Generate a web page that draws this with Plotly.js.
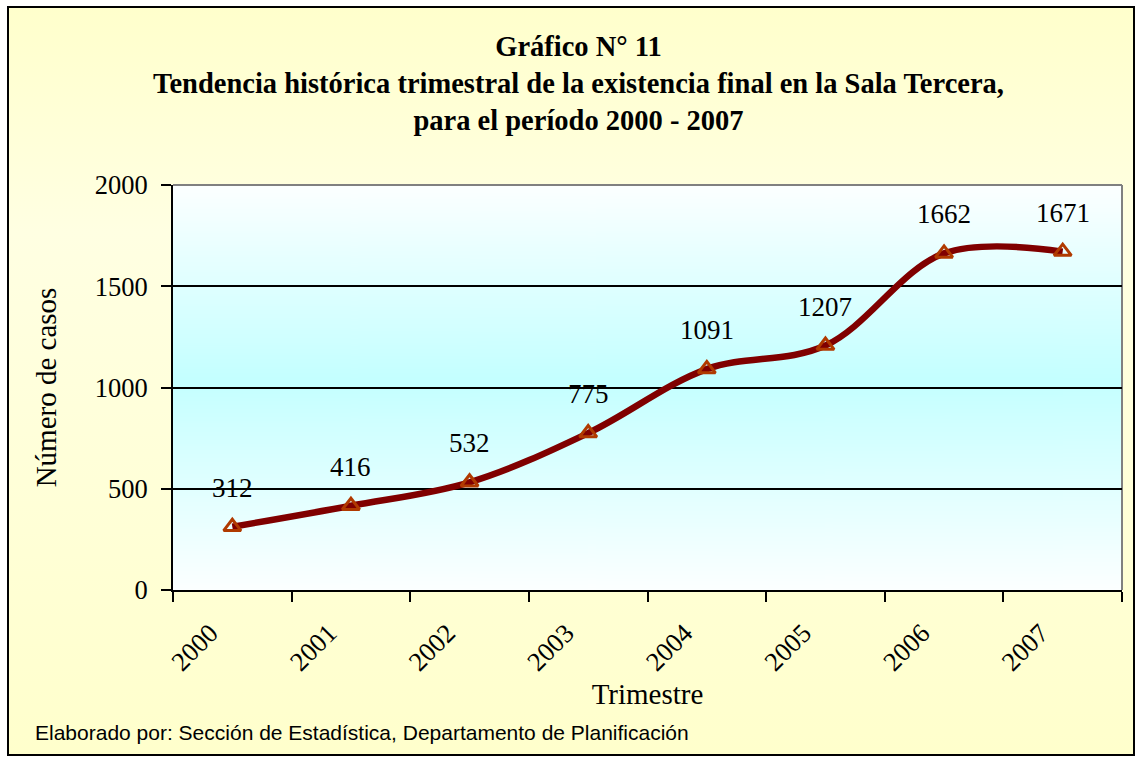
<!DOCTYPE html>
<html>
<head>
<meta charset="utf-8">
<script src="https://cdn.plot.ly/plotly-3.0.1.min.js"></script>
<style>
  html, body { margin: 0; padding: 0; background: #ffffff; }
  #wrap { position: relative; width: 1135px; height: 757px; overflow: hidden; }
  #frame { position: absolute; left: 7px; top: 6px; width: 1124px; height: 746px;
           border: 2px solid #000; box-sizing: content-box;
           background: linear-gradient(to bottom, #FFFFCC 0%, #FFFFE2 30%, #FFFFD6 70%, #FFFFCC 100%); }
  #chart { position: absolute; left: 0; top: 0; width: 1135px; height: 757px; }
</style>
</head>
<body>
<div id="wrap">
  <div id="frame"></div>
  <div id="chart"></div>
</div>
<script>
// ---- data ----
const years = ["2000", "2001", "2002", "2003", "2004", "2005", "2006", "2007"];
const casos = [312, 416, 532, 775, 1091, 1207, 1662, 1671];
const yTicks = [0, 500, 1000, 1500, 2000];

const titleLines = [
  "Gráfico N° 11",
  "Tendencia histórica trimestral de la existencia final en la Sala Tercera,",
  "para el período 2000 - 2007"
];
const footerText = "Elaborado por: Sección de Estadística, Departamento de Planificación";

// gradient image for plot background
function gradientURL() {
  const c = document.createElement("canvas");
  c.width = 8; c.height = 400;
  const ctx = c.getContext("2d");
  const g = ctx.createLinearGradient(0, 0, 0, 400);
  g.addColorStop(0, "#FCFFFF");
  g.addColorStop(0.48, "#C4FFFF");
  g.addColorStop(1, "#FCFFFF");
  ctx.fillStyle = g;
  ctx.fillRect(0, 0, 8, 400);
  return c.toDataURL("image/png");
}

const serif = "Liberation Serif, Times New Roman, serif";

const trace = {
  type: "scatter",
  mode: "lines+markers",
  x: years,
  y: casos,
  line: { color: "#800000", width: 6.5, shape: "spline", smoothing: 1 },
  marker: { symbol: "triangle-up-open", size: 15, color: "#B03A00", line: { color: "#B03A00", width: 3 } },
  hoverinfo: "x+y",
  showlegend: false
};

// data labels (category index used as x position)
const labelAnnots = years.map((yr, i) => ({
  x: i, y: casos[i], xref: "x", yref: "y",
  text: String(casos[i]), showarrow: false,
  yshift: 39, yanchor: "middle", xanchor: "center",
  font: { family: serif, size: 27, color: "#000" }
}));

const layout = {
  width: 1135, height: 757,
  margin: { l: 173, r: 13, t: 185, b: 167 },
  paper_bgcolor: "rgba(0,0,0,0)",
  plot_bgcolor: "rgba(0,0,0,0)",
  title: {
    text: titleLines.join("<br>"),
    font: { family: serif, size: 28.5, color: "#000", weight: "bold" },
    x: 0.5097, xanchor: "center", xref: "container",
    y: 0.926, yanchor: "middle", yref: "container"
  },
  xaxis: {
    type: "category",
    tickson: "boundaries",
    ticks: "outside", ticklen: 10, tickwidth: 2, tickcolor: "#000",
    showline: true, linecolor: "#000", linewidth: 2,
    showgrid: false, zeroline: false,
    tickangle: -45,
    ticklabelstandoff: 15,
    ticklabelshift: -22,
    tickfont: { family: serif, size: 26.5, color: "#000" },
    title: { text: "Trimestre", font: { family: serif, size: 29, color: "#000" }, standoff: 8 },
    range: [-0.5, 7.5]
  },
  yaxis: {
    range: [0, 2000],
    tickvals: yTicks,
    ticktext: yTicks.map(String),
    ticks: "outside", ticklen: 10, tickwidth: 2, tickcolor: "#000",
    showline: true, linecolor: "#000", linewidth: 2,
    showgrid: true, gridcolor: "#000", gridwidth: 2,
    zeroline: false,
    ticklabelstandoff: 8,
    tickfont: { family: serif, size: 26.5, color: "#000" },
    title: { text: "Número de casos", font: { family: serif, size: 29, color: "#000" }, standoff: 30 }
  },
  images: [{
    source: gradientURL(),
    xref: "paper", yref: "paper", x: 0, y: 1, sizex: 1, sizey: 1,
    sizing: "stretch", xanchor: "left", yanchor: "top", layer: "below"
  }],
  shapes: [
    { type: "line", xref: "paper", yref: "paper", x0: 0, x1: 1, y0: 1, y1: 1, line: { color: "#808080", width: 2 }, layer: "below" },
    { type: "line", xref: "paper", yref: "paper", x0: 1, x1: 1, y0: 0, y1: 1, line: { color: "#808080", width: 2 }, layer: "below" }
  ],
  annotations: labelAnnots.concat([{
    xref: "paper", yref: "paper", x: -0.1475, y: -0.351,
    xanchor: "left", yanchor: "middle", showarrow: false,
    text: footerText,
    font: { family: "Liberation Sans, Arial, sans-serif", size: 21, color: "#000" }
  }])
};

Plotly.newPlot("chart", [trace], layout, { displayModeBar: false, staticPlot: true });
</script>
</body>
</html>
